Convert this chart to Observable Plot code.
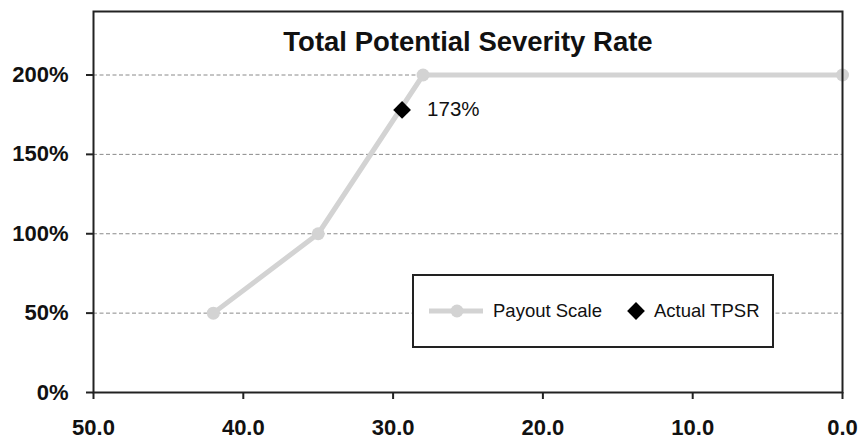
<!DOCTYPE html>
<html><head><meta charset="utf-8">
<script src="https://cdn.jsdelivr.net/npm/d3@7"></script>
<script src="https://cdn.jsdelivr.net/npm/@observablehq/plot@0.6"></script>
<style>
body{margin:0;background:#fff;font-family:"Liberation Sans",Arial,sans-serif;}
#wrap{position:relative;width:859px;height:439px;}
#legend{position:absolute;left:412px;top:274px;}
</style></head><body><div id="wrap"></div>
<script>
const title = "Total Potential Severity Rate";
const payoutX = [42, 35, 28, 0];
const payoutY = [50, 100, 200, 200];
const tpsrX = [29.4];
const tpsrY = [178];
const tpsrLabel = ["173%"];
const xTicks = [50, 40, 30, 20, 10, 0];
const yTicks = [0, 50, 100, 150, 200];
const gridY = [50, 100, 150, 200];
const legendLabels = ["Payout Scale", "Actual TPSR"];

const payout = payoutX.map((x, i) => ({x, y: payoutY[i]}));
const tpsr = tpsrX.map((x, i) => ({x, y: tpsrY[i], label: tpsrLabel[i]}));

const chart = Plot.plot({
  width: 859, height: 439,
  marginLeft: 93, marginRight: 17, marginTop: 11, marginBottom: 47,
  style: {fontFamily: "Liberation Sans, Arial, sans-serif", background: "#fff"},
  x: {domain: [50, 0]},
  y: {domain: [0, 240]},
  marks: [
    Plot.ruleY(gridY, {stroke: "#8a8a8a", strokeDasharray: "4,2.5", strokeWidth: 1}),
    Plot.line(payout, {x: "x", y: "y", stroke: "#d3d3d3", strokeWidth: 5}),
    Plot.dot(payout, {x: "x", y: "y", r: 6.5, fill: "#d3d3d3"}),
    Plot.dot(tpsr, {x: "x", y: "y", symbol: "diamond2", r: 8, fill: "#000"}),
    Plot.text(tpsr, {x: "x", y: "y", text: "label", dx: 25, textAnchor: "start", fontSize: 20.5, fill: "#111"}),
    Plot.text([title], {frameAnchor: "top", dy: 20, fontSize: 27.5, fontWeight: "bold", fill: "#111"}),
    Plot.axisX({ticks: xTicks, tickFormat: d => d.toFixed(1), tickSize: 7, tickPadding: 20, fontSize: 22, fontWeight: "bold", fill: "#111", stroke: "#222", strokeWidth: 2, label: null}),
    Plot.axisY({ticks: yTicks, tickFormat: d => d + "%", tickSize: 7, tickPadding: 18, fontSize: 22, fontWeight: "bold", fill: "#111", stroke: "#222", strokeWidth: 2, label: null}),
    Plot.frame({stroke: "#222", strokeWidth: 2})
  ]
});
const wrap = document.getElementById("wrap");
wrap.appendChild(chart);

// legend
const lg = d3.select(wrap).append("svg").attr("id", "legend")
  .attr("width", 362).attr("height", 74)
  .style("font-family", "Liberation Sans, Arial, sans-serif");
lg.append("rect").attr("x", 1).attr("y", 1).attr("width", 360).attr("height", 72)
  .attr("fill", "#fff").attr("stroke", "#222").attr("stroke-width", 2);
lg.append("line").attr("x1", 17).attr("x2", 71).attr("y1", 37).attr("y2", 37)
  .attr("stroke", "#d3d3d3").attr("stroke-width", 5);
lg.append("circle").attr("cx", 45).attr("cy", 37).attr("r", 6.5).attr("fill", "#d3d3d3");
lg.append("text").attr("x", 81).attr("y", 37).attr("dy", "0.35em").attr("font-size", 18.5).attr("fill", "#111").text(legendLabels[0]);
lg.append("path").attr("d", d3.symbol(d3.symbolDiamond2, Math.PI * 8 * 8)()).attr("transform", "translate(224,37)").attr("fill", "#000");
lg.append("text").attr("x", 242).attr("y", 37).attr("dy", "0.35em").attr("font-size", 18.5).attr("fill", "#111").text(legendLabels[1]);
</script></body></html>
